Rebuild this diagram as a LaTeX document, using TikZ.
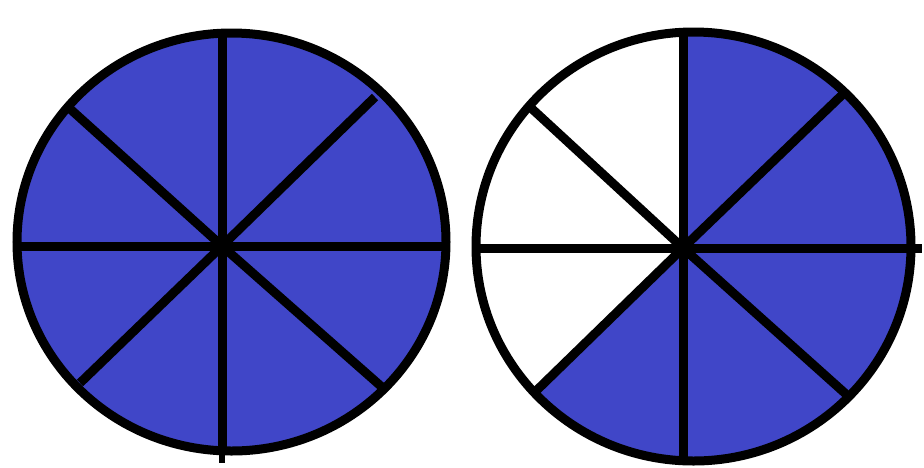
\documentclass[tikz,border=0pt]{standalone}
\definecolor{pieblue}{RGB}{64,70,200}
\tikzset{rim/.style={draw=black,line width=9pt},
  spoke/.style={draw=black,line width=9pt}}
\begin{document}
\begin{tikzpicture}[x=1pt,y=-1pt]
\useasboundingbox (0,0) rectangle (924,467);
\fill[white] (0,0) rectangle (924,467);
% left pie
\coordinate (L) at (222,246);
\fill[pieblue] (231.5,242) ellipse [x radius=214.5, y radius=209];
\draw[spoke] (222,29) -- (222,455);
\draw[black,line width=6pt] (222,450) -- (222,463);
\draw[spoke] (15,246) -- (448,246);
\draw[spoke] (68,107) -- (L) -- (383,388);
\draw[spoke] (375,97) -- (L) -- (80,383);
\draw[rim] (231.5,242) ellipse [x radius=214.5, y radius=209];
% right pie
\coordinate (R) at (683,248);
\fill[pieblue] (693.5,246.5) ellipse [x radius=217.5, y radius=214.5];
\begin{scope}
\clip (693.5,246.5) ellipse [x radius=217.5, y radius=214.5];
\fill[white] (R) -- (464,461) -- (300,461) -- (300,0) -- (683,0) -- cycle;
\end{scope}
\draw[spoke] (683,28) -- (683,465);
\draw[spoke] (474,248) -- (922,248);
\draw[spoke] (530,107) -- (R) -- (847,395);
\draw[spoke] (842,95) -- (R) -- (537,390);
\draw[rim] (693.5,246.5) ellipse [x radius=217.5, y radius=214.5];
\end{tikzpicture}
\end{document}
